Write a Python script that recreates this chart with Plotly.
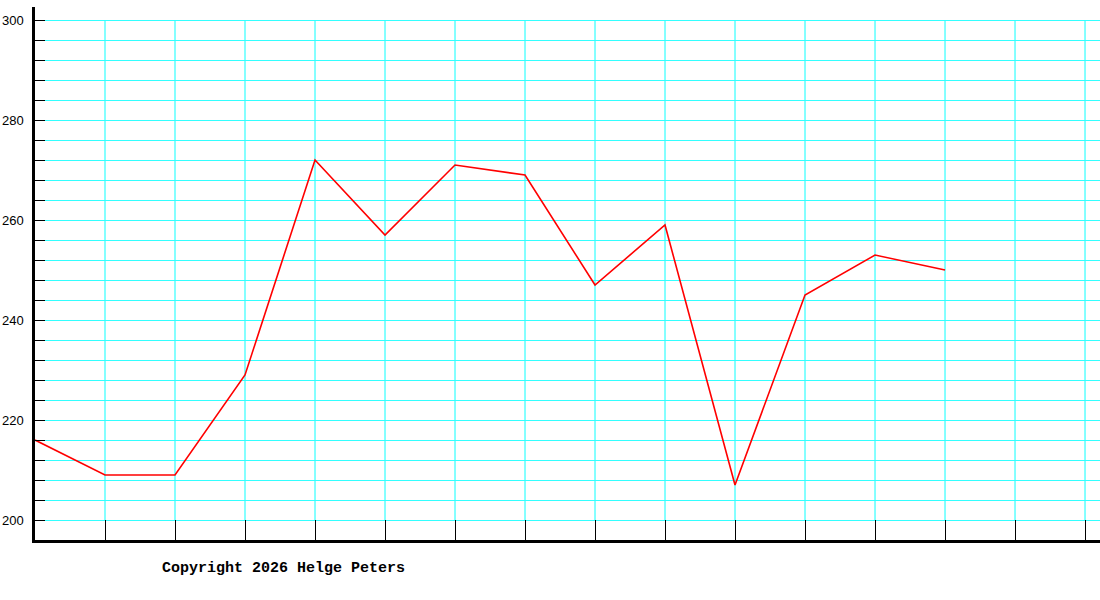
import plotly.graph_objects as go

# values, one point per column
points = list(range(14))
values = [216, 209, 209, 229, 272, 257, 271, 269, 247, 259, 207, 245, 253, 250]

grid_cols = list(range(1, 16))
y_grid = list(range(200, 301, 4))
y_labels = [str(v) if v % 20 == 0 else '' for v in y_grid]

fig = go.Figure()
fig.add_trace(go.Scatter(x=points, y=values, mode='lines',
                         line=dict(color='#ff0000', width=1.6),
                         hoverinfo='skip'))

# vertical grid only between the 200 and 300 lines
for c in grid_cols:
    fig.add_shape(type='line', xref='x', yref='y', x0=c, x1=c, y0=200, y1=300,
                  line=dict(color='#33ffff', width=1.2), layer='below')

fig.update_xaxes(range=[0, 15.214], showgrid=False, zeroline=False, automargin=False,
                 tickmode='array', tickvals=grid_cols, ticktext=['']*len(grid_cols),
                 ticks='inside', ticklen=20, tickwidth=1.2, tickcolor='black',
                 showline=True, linecolor='black', linewidth=2.5)
fig.update_yaxes(range=[196, 302.6], zeroline=False, automargin=False,
                 tickmode='array', tickvals=y_grid, ticktext=y_labels,
                 showgrid=True, gridcolor='#33ffff', gridwidth=1.2,
                 ticks='inside', ticklen=10, tickwidth=1.2, tickcolor='black',
                 showline=True, linecolor='black', linewidth=2.5,
                 ticklabelstandoff=6,
                 tickfont=dict(family='Liberation Sans', size=13, color='black'))

fig.add_annotation(xref='paper', yref='paper', x=0.117, y=-0.053,
                   xanchor='left', yanchor='middle', showarrow=False,
                   text='<b>Copyright 2026 Helge Peters</b>',
                   font=dict(family='Liberation Mono', size=15, color='black'))

fig.update_layout(width=1100, height=600, showlegend=False,
                  margin=dict(l=35, r=0, t=7, b=60),
                  plot_bgcolor='white', paper_bgcolor='white')

fig.write_html("out.html", config={'displayModeBar': False},
               post_script="document.body.style.margin='0';document.body.style.overflow='hidden';")
